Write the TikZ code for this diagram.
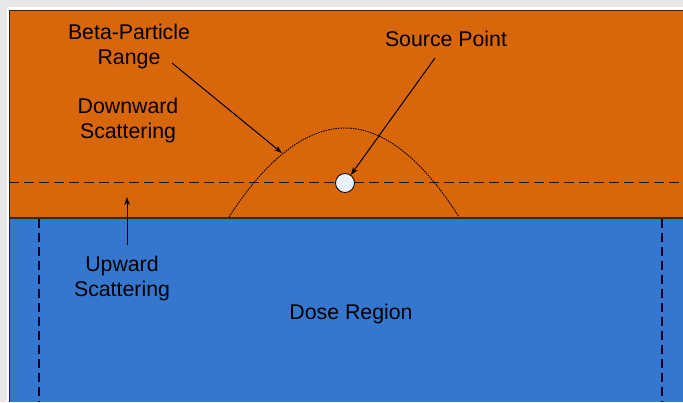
\documentclass[tikz,border=0pt]{standalone}
\usepackage{fontspec}
\setmainfont{Liberation Sans}
\usetikzlibrary{arrows.meta}
\definecolor{orangereg}{RGB}{216,102,10}
\definecolor{bluereg}{RGB}{53,119,206}
\definecolor{srcfill}{RGB}{232,240,250}
\definecolor{outergray}{RGB}{232,232,232}
\definecolor{borderc}{RGB}{50,40,30}
\tikzset{
  lbl/.style={inner sep=0pt, align=center, font=\fontsize{21.3}{25}\selectfont},
  pointer/.style={line width=1pt, -{Stealth[length=8pt,width=5.5pt]}},
  splitline/.style={line width=1.5pt, dash pattern=on 10pt off 5pt, black!90},
  sideline/.style={line width=1.4pt, dash pattern=on 9pt off 5pt, black!85!blue},
  rangeline/.style={line width=0.9pt, dash pattern=on 1.5pt off 1pt},
}
\begin{document}
\begin{tikzpicture}[x=1pt,y=-1pt]
\useasboundingbox (0,0) rectangle (683,402);
\fill[outergray] (0,0) rectangle (683,402);
\fill[white] (7,7) rectangle (683,402);
\fill[orangereg] (9,10.5) rectangle (683,218);
\fill[bluereg] (9,218) rectangle (683,402);
\draw[borderc, line width=1pt] (683,10.5) -- (9,10.5) -- (9,402);
\draw[borderc, line width=1.2pt] (9,218) -- (683,218);
% dashed lines
\draw[splitline] (9,182.5) -- (683,182.5);
\draw[sideline] (39,219) -- (39,402);
\draw[sideline] (662,219) -- (662,402);
% beta range curve
\draw[rangeline] (229,217) parabola bend (345,128) (459,217);
% source point
\node (src) [circle, draw=black, line width=0.8pt, fill=srcfill, minimum size=19pt, inner sep=0pt] at (345,183) {};
% labels
\node (beta) [lbl] at (129,46) {Beta-Particle\\Range};
\node (down) [lbl] at (128,120) {Downward\\Scattering};
\node (srclbl) [lbl] at (446,39) {Source Point};
\node (up) [lbl] at (122,278) {Upward\\Scattering};
\node (dose) [lbl] at (351,314) {Dose Region};
% arrows
\coordinate (betastart) at (172,63);
\coordinate (betatip) at (282,153);
\coordinate (srcstart) at (435,58);
\coordinate (upstart) at (127,245);
\coordinate (uptip) at (127,197);
\draw[pointer] (betastart) -- (betatip);
\draw[pointer] (srcstart) -- (src);
\draw[pointer] (upstart) -- (uptip);
\end{tikzpicture}
\end{document}
